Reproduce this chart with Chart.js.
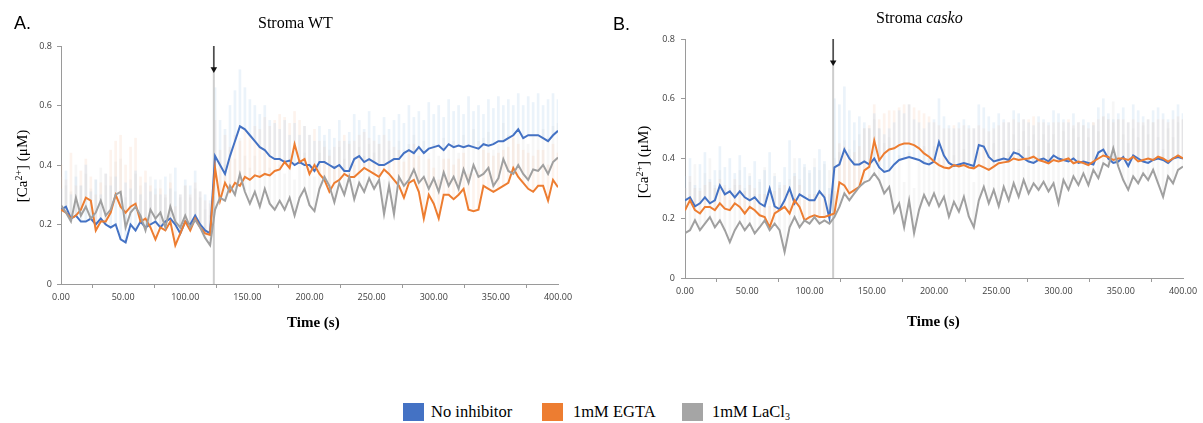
<!DOCTYPE html>
<html><head><meta charset="utf-8">
<script src="https://cdn.jsdelivr.net/npm/chart.js@4.4.1/dist/chart.umd.min.js"></script>
<style>
html,body{margin:0;padding:0;background:#fff;width:1203px;height:423px;overflow:hidden;position:relative;font-family:"Liberation Serif","Times New Roman",serif;color:#000;}
.abs{position:absolute;white-space:nowrap;}
.panel{font-family:"Liberation Sans",Arial,sans-serif;font-size:18px;line-height:18px;}
.title{font-size:16px;line-height:16px;}
.xt{font-size:15px;line-height:15px;font-weight:bold;}
.yt{font-size:15px;line-height:16px;width:140px;text-align:center;transform:rotate(-90deg);transform-origin:50% 50%;}
.yt sup{font-size:10px;vertical-align:5px;line-height:0;}
.sw{position:absolute;width:21px;height:18px;}
.lg{font-size:16.5px;line-height:16.5px;}
.lg sub{font-size:10px;vertical-align:-3px;line-height:0;}
</style></head><body>
<div class="abs" style="left:0;top:0;width:620px;height:345px"><canvas id="cA" width="620" height="345"></canvas></div>
<div class="abs" style="left:620px;top:0;width:583px;height:345px"><canvas id="cB" width="583" height="345"></canvas></div>

<div class="abs panel" style="left:14px;top:14px">A.</div>
<div class="abs panel" style="left:613px;top:15px">B.</div>
<div class="abs title" style="left:258px;top:15px">Stroma WT</div>
<div class="abs title" style="left:876px;top:10px">Stroma <i>casko</i></div>
<div class="abs xt" style="left:287px;top:315px">Time (s)</div>
<div class="abs xt" style="left:907px;top:314px">Time (s)</div>
<div class="abs yt" style="left:-48px;top:158px">[Ca<sup>2+</sup>] (μM)</div>
<div class="abs yt" style="left:573px;top:154px">[Ca<sup>2+</sup>] (μM)</div>

<div class="sw" style="left:403px;top:403px;background:#4472C4"></div>
<div class="abs lg" style="left:431px;top:404px">No inhibitor</div>
<div class="sw" style="left:542px;top:403px;background:#ED7D31"></div>
<div class="abs lg" style="left:573px;top:404px">1mM EGTA</div>
<div class="sw" style="left:682px;top:403px;background:#A5A5A5"></div>
<div class="abs lg" style="left:712px;top:404px">1mM LaCl<sub>3</sub></div>

<script>
const TIME = [0,4,8,12,16,20,24,28,32,36,
40,44,48,52,56,60,64,68,72,76,
80,84,88,92,96,100,104,108,112,116,
120,124,128,132,136,140,144,148,152,156,
160,164,168,172,176,180,184,188,192,196,
200,204,208,212,216,220,224,228,232,236,
240,244,248,252,256,260,264,268,272,276,
280,284,288,292,296,300,304,308,312,316,
320,324,328,332,336,340,344,348,352,356,
360,364,368,372,376,380,384,388,392,396,
400];

const X_TICKS = [0,50,100,150,200,250,300,350,400];
const X_LABELS = ["0.00","50.00","100.00","150.00","200.00","250.00","300.00","350.00","400.00"];
const Y_TICKS = [0,0.2,0.4,0.6,0.8];
const Y_LABELS = ["0","0.2","0.4","0.6","0.8"];

const MARK_A = 123;
const MARK_B = 119;
const ARROW = [0.8, 0.722];

// Panel A: Stroma WT
const A_NOINH = [0.25,0.26,0.22,0.23,0.21,0.21,0.22,0.20,0.22,0.20,
0.19,0.20,0.15,0.14,0.20,0.18,0.21,0.19,0.20,0.21,
0.19,0.21,0.22,0.20,0.17,0.21,0.20,0.23,0.20,0.18,
0.17,0.43,0.40,0.37,0.43,0.48,0.53,0.52,0.50,0.48,
0.46,0.45,0.43,0.42,0.42,0.41,0.415,0.40,0.41,0.40,
0.40,0.38,0.41,0.41,0.40,0.39,0.40,0.38,0.38,0.42,
0.43,0.41,0.42,0.41,0.40,0.40,0.41,0.42,0.42,0.44,
0.45,0.44,0.46,0.44,0.455,0.46,0.465,0.45,0.47,0.46,
0.465,0.46,0.465,0.46,0.455,0.47,0.465,0.47,0.48,0.48,
0.49,0.50,0.52,0.49,0.50,0.50,0.50,0.49,0.48,0.50,
0.515];
const A_EGTA = [0.25,0.24,0.22,0.23,0.25,0.29,0.28,0.18,0.21,0.21,
0.24,0.30,0.26,0.24,0.26,0.27,0.21,0.22,0.19,0.15,
0.19,0.18,0.21,0.13,0.17,0.21,0.18,0.22,0.19,0.17,
0.165,0.39,0.28,0.34,0.31,0.34,0.33,0.36,0.35,0.365,
0.36,0.37,0.365,0.38,0.385,0.41,0.39,0.47,0.41,0.42,
0.37,0.40,0.37,0.35,0.31,0.34,0.35,0.37,0.36,0.36,
0.375,0.39,0.38,0.37,0.36,0.385,0.37,0.35,0.33,0.29,
0.34,0.35,0.31,0.22,0.30,0.27,0.22,0.30,0.30,0.285,
0.30,0.32,0.25,0.245,0.25,0.33,0.32,0.31,0.32,0.33,
0.34,0.39,0.36,0.34,0.32,0.31,0.33,0.33,0.28,0.35,
0.325];
const A_LACL = [0.265,0.24,0.21,0.29,0.23,0.26,0.22,0.24,0.28,0.23,
0.25,0.30,0.31,0.19,0.24,0.26,0.23,0.18,0.25,0.22,
0.24,0.19,0.26,0.21,0.19,0.23,0.19,0.215,0.19,0.155,
0.13,0.25,0.29,0.28,0.33,0.30,0.37,0.31,0.27,0.31,
0.26,0.32,0.27,0.25,0.28,0.25,0.29,0.23,0.29,0.32,
0.265,0.245,0.32,0.36,0.33,0.275,0.34,0.30,0.36,0.285,
0.34,0.31,0.355,0.32,0.35,0.235,0.33,0.235,0.36,0.33,
0.35,0.385,0.34,0.36,0.32,0.355,0.31,0.375,0.33,0.36,
0.32,0.385,0.34,0.40,0.36,0.37,0.39,0.33,0.355,0.42,
0.38,0.37,0.40,0.37,0.35,0.385,0.38,0.40,0.37,0.41,
0.425];
const A_NOINH_UP = [0.32,0.38,0.30,0.36,0.33,0.40,0.31,0.35,0.30,0.37,
0.33,0.36,0.30,0.34,0.32,0.38,0.30,0.34,0.31,0.35,
0.30,0.36,0.32,0.39,0.30,0.35,0.33,0.38,0.31,0.30,
0.28,0.66,0.55,0.52,0.60,0.65,0.72,0.66,0.62,0.60,
0.57,0.60,0.55,0.54,0.52,0.55,0.50,0.54,0.50,0.53,
0.50,0.48,0.53,0.50,0.52,0.49,0.55,0.48,0.51,0.57,
0.55,0.52,0.58,0.53,0.50,0.56,0.52,0.55,0.57,0.54,
0.60,0.56,0.58,0.55,0.61,0.57,0.60,0.56,0.62,0.58,
0.60,0.57,0.63,0.58,0.60,0.57,0.62,0.59,0.63,0.60,
0.62,0.60,0.64,0.60,0.63,0.61,0.64,0.60,0.62,0.64,
0.62];
const A_EGTA_UP = [0.40,0.35,0.44,0.33,0.38,0.42,0.36,0.30,0.34,0.37,
0.45,0.48,0.50,0.40,0.46,0.49,0.36,0.38,0.33,0.30,
0.32,0.30,0.34,0.26,0.30,0.33,0.30,0.34,0.31,0.28,
0.27,0.55,0.45,0.50,0.46,0.50,0.48,0.52,0.50,0.53,
0.52,0.56,0.53,0.55,0.57,0.56,0.54,0.58,0.55,0.53,
0.50,0.52,0.48,0.46,0.43,0.46,0.48,0.50,0.47,0.48,
0.50,0.51,0.49,0.48,0.47,0.50,0.48,0.46,0.45,0.41,
0.45,0.47,0.43,0.35,0.42,0.39,0.35,0.42,0.42,0.40,
0.42,0.44,0.37,0.37,0.38,0.45,0.44,0.43,0.44,0.45,
0.46,0.50,0.47,0.45,0.44,0.43,0.45,0.45,0.40,0.47,
0.44];
const A_LACL_UP = [0.36,0.33,0.31,0.40,0.33,0.37,0.32,0.35,0.39,0.33,
0.36,0.41,0.42,0.29,0.35,0.37,0.33,0.28,0.36,0.32,
0.35,0.29,0.37,0.31,0.29,0.33,0.29,0.32,0.29,0.25,
0.23,0.38,0.41,0.40,0.45,0.42,0.49,0.43,0.39,0.43,
0.38,0.44,0.39,0.37,0.40,0.37,0.41,0.35,0.41,0.44,
0.38,0.36,0.44,0.48,0.45,0.39,0.46,0.42,0.48,0.40,
0.46,0.43,0.47,0.44,0.47,0.35,0.45,0.35,0.48,0.45,
0.47,0.50,0.46,0.48,0.44,0.47,0.43,0.49,0.45,0.48,
0.44,0.50,0.46,0.52,0.48,0.49,0.51,0.45,0.47,0.54,
0.50,0.49,0.52,0.49,0.47,0.50,0.50,0.52,0.49,0.53,
0.54];

// Panel B: Stroma casko
const B_NOINH = [0.26,0.27,0.24,0.25,0.27,0.25,0.26,0.31,0.28,0.29,
0.27,0.29,0.27,0.26,0.27,0.25,0.24,0.30,0.24,0.23,
0.26,0.30,0.25,0.28,0.27,0.26,0.26,0.29,0.27,0.20,
0.37,0.38,0.43,0.40,0.38,0.38,0.39,0.38,0.40,0.37,
0.355,0.36,0.38,0.395,0.40,0.405,0.40,0.395,0.385,0.38,
0.39,0.455,0.41,0.385,0.375,0.38,0.385,0.38,0.375,0.445,
0.44,0.405,0.39,0.395,0.40,0.395,0.42,0.415,0.40,0.39,
0.385,0.395,0.40,0.39,0.41,0.40,0.395,0.39,0.40,0.385,
0.39,0.385,0.38,0.42,0.43,0.40,0.385,0.39,0.405,0.375,
0.41,0.40,0.39,0.385,0.395,0.40,0.395,0.385,0.40,0.405,
0.40];
const B_EGTA = [0.227,0.26,0.227,0.216,0.238,0.238,0.227,0.25,0.232,0.227,
0.25,0.238,0.216,0.238,0.227,0.21,0.204,0.17,0.216,0.227,
0.238,0.216,0.26,0.238,0.193,0.204,0.21,0.204,0.204,0.21,
0.216,0.32,0.31,0.283,0.294,0.305,0.36,0.372,0.46,0.394,
0.417,0.43,0.434,0.445,0.45,0.45,0.445,0.434,0.417,0.406,
0.39,0.378,0.37,0.367,0.378,0.373,0.378,0.37,0.367,0.378,
0.37,0.362,0.373,0.384,0.387,0.39,0.40,0.395,0.398,0.40,
0.406,0.395,0.39,0.384,0.395,0.39,0.395,0.40,0.384,0.39,
0.385,0.378,0.39,0.40,0.41,0.405,0.395,0.40,0.40,0.395,
0.406,0.39,0.395,0.40,0.395,0.406,0.40,0.39,0.40,0.41,
0.40];
const B_LACL = [0.15,0.16,0.193,0.16,0.182,0.204,0.17,0.193,0.16,0.12,
0.16,0.188,0.16,0.182,0.149,0.17,0.193,0.16,0.182,0.16,
0.087,0.17,0.204,0.17,0.193,0.182,0.204,0.182,0.193,0.182,
0.204,0.238,0.283,0.26,0.283,0.305,0.32,0.327,0.35,0.327,
0.283,0.305,0.22,0.25,0.17,0.26,0.15,0.228,0.278,0.244,
0.283,0.24,0.272,0.205,0.255,0.222,0.272,0.205,0.17,0.26,
0.305,0.25,0.295,0.24,0.305,0.26,0.317,0.272,0.328,0.283,
0.317,0.295,0.322,0.29,0.317,0.25,0.328,0.295,0.34,0.311,
0.35,0.311,0.362,0.334,0.384,0.373,0.434,0.373,0.328,0.295,
0.34,0.317,0.35,0.328,0.362,0.317,0.272,0.34,0.317,0.362,
0.373];
const B_NOINH_UP = [0.34,0.40,0.31,0.38,0.42,0.33,0.36,0.44,0.37,0.40,
0.35,0.41,0.37,0.34,0.39,0.33,0.36,0.42,0.34,0.32,
0.37,0.46,0.35,0.40,0.38,0.36,0.37,0.43,0.39,0.30,
0.60,0.58,0.64,0.56,0.52,0.54,0.52,0.50,0.55,0.50,
0.48,0.50,0.52,0.56,0.55,0.58,0.53,0.52,0.50,0.52,
0.53,0.60,0.54,0.51,0.50,0.52,0.53,0.51,0.50,0.58,
0.57,0.54,0.52,0.55,0.53,0.52,0.56,0.55,0.53,0.52,
0.51,0.54,0.53,0.52,0.56,0.55,0.53,0.52,0.55,0.52,
0.53,0.52,0.51,0.57,0.60,0.55,0.53,0.55,0.57,0.52,
0.58,0.56,0.54,0.53,0.56,0.57,0.55,0.53,0.56,0.58,
0.55];
const B_EGTA_UP = [0.30,0.34,0.30,0.29,0.31,0.32,0.30,0.33,0.31,0.30,
0.33,0.31,0.29,0.31,0.30,0.28,0.28,0.24,0.29,0.30,
0.31,0.29,0.34,0.31,0.26,0.28,0.28,0.27,0.28,0.28,
0.29,0.45,0.44,0.41,0.42,0.44,0.50,0.51,0.58,0.53,
0.55,0.56,0.56,0.57,0.58,0.58,0.57,0.56,0.55,0.54,
0.52,0.51,0.50,0.50,0.51,0.50,0.51,0.50,0.50,0.51,
0.50,0.49,0.50,0.51,0.52,0.52,0.53,0.52,0.53,0.53,
0.54,0.52,0.52,0.51,0.52,0.52,0.52,0.53,0.51,0.52,
0.51,0.50,0.52,0.53,0.54,0.53,0.52,0.53,0.53,0.52,
0.53,0.52,0.52,0.53,0.52,0.53,0.53,0.52,0.53,0.54,
0.53];
const B_LACL_UP = [0.30,0.32,0.38,0.30,0.35,0.40,0.31,0.36,0.30,0.26,
0.31,0.36,0.30,0.35,0.28,0.32,0.37,0.30,0.35,0.31,
0.22,0.33,0.40,0.33,0.37,0.35,0.40,0.36,0.38,0.36,
0.40,0.42,0.46,0.43,0.46,0.48,0.50,0.50,0.53,0.50,
0.45,0.47,0.38,0.41,0.32,0.42,0.30,0.39,0.44,0.40,
0.44,0.40,0.43,0.36,0.41,0.38,0.43,0.36,0.32,0.42,
0.46,0.41,0.45,0.40,0.46,0.42,0.48,0.43,0.49,0.44,
0.48,0.46,0.48,0.45,0.48,0.41,0.49,0.46,0.50,0.47,
0.51,0.47,0.52,0.49,0.54,0.53,0.59,0.53,0.48,0.45,
0.50,0.47,0.51,0.48,0.52,0.47,0.43,0.50,0.47,0.52,
0.53];

const COLORS = ['#4472C4','#ED7D31','#A0A0A0'];
const PALE = ['rgba(155,194,230,0.2)','rgba(244,177,131,0.15)','rgba(200,200,200,0.16)'];

function build(id, means, uppers, mark, geo) {
  const ds = [];
  means.forEach((m, k) => {
    ds.push({type:'bar', data: TIME.map((t,i)=>({x:t, y:[m[i], uppers[k][i]]})),
      backgroundColor: PALE[k], borderWidth:0, barThickness:2, grouped:false, order:10+k});
  });
  ds.push({type:'line', data:[{x:mark,y:0},{x:mark,y:0.8}], borderColor:'rgba(200,200,200,0.9)',
    borderWidth:2, pointRadius:0, order:6});
  means.forEach((m, k) => {
    ds.push({type:'line', data: TIME.map((t,i)=>({x:t, y:m[i]})), borderColor: COLORS[k],
      borderWidth:2, pointRadius:0, tension:0, order:3-k});
  });
  ds.push({type:'line', data: ARROW.map(v=>({x:mark,y:v})), borderColor:'#333', borderWidth:1.3,
    pointRadius:[0,3.8], pointStyle:'triangle', pointRotation:180, pointBackgroundColor:'#111',
    pointBorderColor:'#111', pointBorderWidth:0, order:0, clip:false});

  const tickFont = {family:'"Open Sans", "Liberation Sans", sans-serif', size:9};
  new Chart(document.getElementById(id), {
    type:'line',
    data:{datasets:ds},
    options:{
      responsive:false, animation:false, events:[],
      layout:{padding:{left:0, top:geo.top, right:geo.right, bottom:0}},
      plugins:{legend:{display:false}, tooltip:{enabled:false}},
      scales:{
        x:{type:'linear', min:0, max:400, offset:false,
          afterBuildTicks:s=>{s.ticks = X_TICKS.map(v=>({value:v}));},
          afterFit:s=>{s.height = geo.xh;},
          ticks:{callback:(v,i)=>X_LABELS[i], font:tickFont, color:'#404040', padding:4, maxRotation:0, autoSkip:false},
          grid:{display:true, drawOnChartArea:false, drawTicks:true, tickLength:4, color:'#9a9a9a'},
          border:{display:true, color:'#9a9a9a', width:1}},
        y:{type:'linear', min:0, max:0.8,
          afterBuildTicks:s=>{s.ticks = Y_TICKS.map(v=>({value:v}));},
          afterFit:s=>{s.width = geo.yw;},
          ticks:{callback:(v,i)=>Y_LABELS[i], font:tickFont, color:'#404040', padding:geo.ypad},
          grid:{display:true, drawOnChartArea:false, drawTicks:true, tickLength:4, color:'#9a9a9a'},
          border:{display:true, color:'#9a9a9a', width:1}}
      }
    }
  });
}

build('cA', [A_NOINH, A_EGTA, A_LACL], [A_NOINH_UP, A_EGTA_UP, A_LACL_UP], MARK_A,
  {top:46, right:62, xh:61, yw:61, ypad:5});
build('cB', [B_NOINH, B_EGTA, B_LACL], [B_NOINH_UP, B_EGTA_UP, B_LACL_UP], MARK_B,
  {top:39, right:20, xh:67, yw:65, ypad:6});
</script>
</body></html>
